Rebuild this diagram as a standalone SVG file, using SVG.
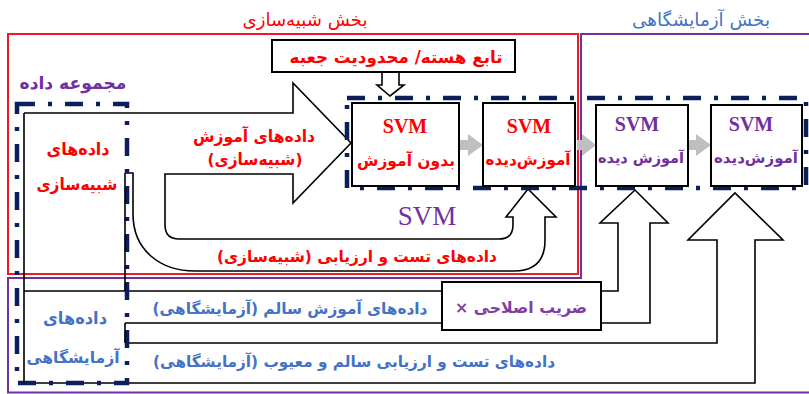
<svg xmlns="http://www.w3.org/2000/svg" width="809" height="394" viewBox="0 0 809 394">
<style>
.fa{font-family:"DejaVu Sans","Noto Sans",sans-serif;font-weight:bold;direction:rtl;text-anchor:middle}
.rg{font-weight:normal}
.svm{font-family:"Liberation Serif","Times New Roman",serif;font-weight:bold;font-size:20px;text-anchor:middle}
.red{fill:#ff0000}
.pur{fill:#7030a0}
.blu{fill:#4472c4}
.box{fill:#fff;stroke:#000;stroke-width:2}
.ln{fill:none;stroke:#000;stroke-width:1.6;stroke-linejoin:miter}
.dd{fill:none;stroke:#0a1f5c;stroke-width:4.5;stroke-dasharray:18 13 4 13}
.gray{fill:#bfbfbf}
</style>
<rect width="809" height="394" fill="#fff"/>

<g id="sim-section">
<rect x="8" y="34" width="570" height="240" fill="none" stroke="#ed1c24" stroke-width="2"/>
<text class="fa red rg" x="305" y="26" font-size="18" textLength="125" lengthAdjust="spacingAndGlyphs">بخش شبیه‌سازی</text>
</g>
<g id="lab-section">
<path d="M809,34 H581 V278 H8 V392.5 H809" fill="none" stroke="#7030a0" stroke-width="2"/>
<text class="fa blu rg" x="701" y="26" font-size="18" textLength="138" lengthAdjust="spacingAndGlyphs">بخش آزمایشگاهی</text>
</g>

<g id="connectors">
<path class="ln" d="M24,113 H293 V83 L351,143 L293,203 V174 H165 V225 Q165,239 179,239 H499 Q513,239 513,225 V217 H506 L528,189 L556,217 H545 V240 Q545,271 514,271 H195 C160,271 133,250 133,214 V173 H125"/>
<path class="ln" d="M125,291 H442 M601,291 H618 V223 H600 L635,190 L668,223 H650 V323 H601 M442,323 H125"/>
<path class="ln" d="M125,343 H717 V240 H688 L735,193 L783,240 H755 V383 H24"/>
<path class="ln" d="M382,72 V85 H377 L390,96 L404,85 H399 V72"/>
<path class="gray" d="M460,140 H468 V134 L483,145 L468,156 V150 H460 Z"/>
<path class="gray" d="M577,140 H582 V134 L596,145 L582,156 V150 H577 Z"/>
<path class="gray" d="M689,140 H696 V134 L711,145 L696,156 V150 H689 Z"/>
<text class="fa red" x="254" y="142" font-size="16.5" textLength="122" lengthAdjust="spacingAndGlyphs">داده‌های آموزش</text>
<text class="fa red" x="255" y="165" font-size="16.5" textLength="95" lengthAdjust="spacingAndGlyphs">(شبیه‌سازی)</text>
<text class="fa red" x="357" y="262" font-size="16" textLength="280" lengthAdjust="spacingAndGlyphs">داده‌های تست و ارزیابی (شبیه‌سازی)</text>
<text class="fa blu" x="290" y="314" font-size="15.5" textLength="275" lengthAdjust="spacingAndGlyphs">داده‌های آموزش سالم (آزمایشگاهی)</text>
<text class="fa blu" x="354" y="367" font-size="15.5" textLength="402" lengthAdjust="spacingAndGlyphs">داده‌های تست و ارزیابی سالم و معیوب (آزمایشگاهی)</text>
</g>

<g id="dataset">
<rect class="dd" x="17" y="104" width="110" height="279"/>
<text class="fa pur" x="73" y="89" font-size="17.5" textLength="107" lengthAdjust="spacingAndGlyphs">مجموعه داده</text>
</g>
<g id="sim-data">
<path class="ln" d="M24,113 V383 M24,291 H125 M125,173 V291 M125,323 V343"/>
<text class="fa red" x="78" y="155" font-size="17" textLength="63" lengthAdjust="spacingAndGlyphs">داده‌های</text>
<text class="fa red" x="77" y="190" font-size="16.5" textLength="81" lengthAdjust="spacingAndGlyphs">شبیه‌سازی</text>
</g>
<g id="lab-data">
<text class="fa blu" x="75" y="324" font-size="17" textLength="64" lengthAdjust="spacingAndGlyphs">داده‌های</text>
<text class="fa blu" x="73" y="363" font-size="16" textLength="93" lengthAdjust="spacingAndGlyphs">آزمایشگاهی</text>
</g>

<g id="svm-group">
<rect class="dd" x="347" y="98" width="459" height="90"/>
<text x="427" y="225" font-family="Liberation Serif,serif" font-size="27" fill="#7030a0" text-anchor="middle">SVM</text>
</g>

<g id="kernel">
<rect class="box" x="272" y="40" width="243" height="32"/>
<text class="fa red" x="396" y="63" font-size="17" textLength="213" lengthAdjust="spacingAndGlyphs">تابع هسته/ محدودیت جعبه</text>
</g>

<g id="svm1">
<rect class="box" x="352" y="103" width="107" height="83"/>
<text class="svm red" x="405" y="133">SVM</text>
<text class="fa red" x="406" y="166" font-size="16" textLength="98" lengthAdjust="spacingAndGlyphs">بدون آموزش</text>
</g>
<g id="svm2">
<rect class="box" x="483" y="103" width="92" height="83"/>
<text class="svm red" x="529" y="133">SVM</text>
<text class="fa red" x="528" y="165" font-size="15.5" textLength="85" lengthAdjust="spacingAndGlyphs">آموزش‌دیده</text>
</g>
<g id="svm3">
<rect class="box" x="596" y="105" width="92" height="81"/>
<text class="svm pur" x="637" y="131">SVM</text>
<text class="fa pur" x="641" y="163" font-size="15" textLength="86" lengthAdjust="spacingAndGlyphs">آموزش دیده</text>
</g>
<g id="svm4">
<rect class="box" x="711" y="105" width="91" height="81"/>
<text class="svm pur" x="751" y="131">SVM</text>
<text class="fa pur" x="756" y="163" font-size="15" textLength="84" lengthAdjust="spacingAndGlyphs">آموزش‌دیده</text>
</g>

<g id="correction">
<rect class="box" x="442" y="282" width="159" height="48"/>
<text class="fa" x="521" y="313" font-size="16" fill="#8040a0" textLength="132" lengthAdjust="spacingAndGlyphs">ضریب اصلاحی ×</text>
</g>
</svg>
